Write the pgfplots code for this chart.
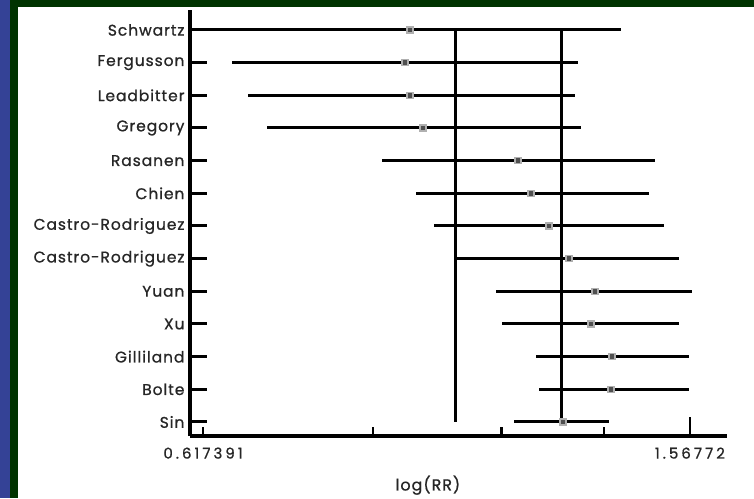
\documentclass[border=0pt]{standalone}
\usepackage{pgfplots}
\pgfplotsset{compat=1.18}
\usepackage{fontspec}
\setmainfont{Poppins}[LetterSpace=6, FakeBold=0.8]
\newfontfamily\numfont{Poppins}[LetterSpace=20, FakeBold=0.8]
\definecolor{frgreen}{RGB}{0,51,0}
\definecolor{frblue}{RGB}{52,66,150}
\definecolor{mk}{RGB}{80,80,80}
\begin{document}
\begin{tikzpicture}[x=1pt,y=1pt]
\fill[white] (0,0) rectangle (754,498);
\fill[frblue] (0,0) rectangle (10,498);
\fill[frgreen] (10,0) rectangle (18,498);
\fill[frgreen] (10,491) rectangle (754,498);
\begin{axis}[
  at={(190pt,62pt)}, anchor=south west,
  scale only axis, width=537pt, height=426pt,
  xmode=log, xmin=0.6022, xmax=1.6828,
  ymin=0.571, ymax=13.612,
  axis x line*=bottom, axis y line*=left,
  axis line style={-, line width=3.3pt, black},
  tick align=inside,
  xtick={0.617391,0.854973,1.092555,1.330138},
  xticklabels={0.617391,,,},
  extra x ticks={1.56772},
  extra x tick labels={1.56772},
  xtick style={/pgfplots/major tick length=9pt, line width=2.6pt, black},
  extra x tick style={xtick style={/pgfplots/major tick length=19pt, line width=2.6pt, black}},
  minor xtick={},
  ytick={1,...,13},
  yticklabels={Sin,Bolte,Gilliland,Xu,Yuan,Castro-Rodriguez,Castro-Rodriguez,Chien,Rasanen,Gregory,Leadbitter,Fergusson,Schwartz},
  ytick style={/pgfplots/major tick length=17pt, line width=3pt, black},
  /pgf/number format/assume math mode=true,
  yticklabel style={font=\fontsize{15.5}{18}\selectfont, text=black!85, xshift=-2pt},
  xticklabel style={font=\numfont\fontsize{15}{18}\selectfont, text=black!85, yshift=-8pt},
  xlabel={log(RR)},
  xlabel style={at={(axis description cs:0.443,0)}, anchor=north, yshift=-36pt, font=\fontsize{16}{18}\selectfont, text=black!85},
]
% reference lines: null (RR=1) and pooled estimate
\addplot[black, line width=3pt] coordinates {(1,1) (1,13)};
\addplot[black, line width=3pt] coordinates {(1.2248,1) (1.2248,13)};
% confidence intervals
\pgfplotsset{ci/.style={black, line width=3pt, forget plot}}
\addplot[ci] coordinates {(0.6127,13) (1.3738,13)};
\addplot[ci] coordinates {(0.6526,12) (1.2653,12)};
\addplot[ci] coordinates {(0.6729,11) (1.2581,11)};
\addplot[ci] coordinates {(0.6979,10) (1.2726,10)};
\addplot[ci] coordinates {(0.8696,9) (1.4662,9)};
\addplot[ci] coordinates {(0.9281,8) (1.4494,8)};
\addplot[ci] coordinates {(0.9606,7) (1.4916,7)};
\addplot[ci] coordinates {(1.0000,6) (1.5351,6)};
\addplot[ci] coordinates {(1.0816,5) (1.5737,5)};
\addplot[ci] coordinates {(1.0941,4) (1.5351,4)};
\addplot[ci] coordinates {(1.1676,3) (1.5647,3)};
\addplot[ci] coordinates {(1.1743,2) (1.5647,2)};
\addplot[ci] coordinates {(1.1195,1) (1.3426,1)};
% point estimates
\addplot[only marks, mark=square*, mark size=3pt, mark options={fill=mk, draw=mk!45!white, line width=1.2pt}] coordinates {
(0.9175,13) (0.9087,12) (0.9175,11) (0.9406,10) (1.1281,9) (1.1565,8) (1.1970,7)
(1.2437,6) (1.3071,5) (1.2972,4) (1.3504,3) (1.3478,2) (1.2295,1)};
\end{axis}
\end{tikzpicture}
\end{document}
